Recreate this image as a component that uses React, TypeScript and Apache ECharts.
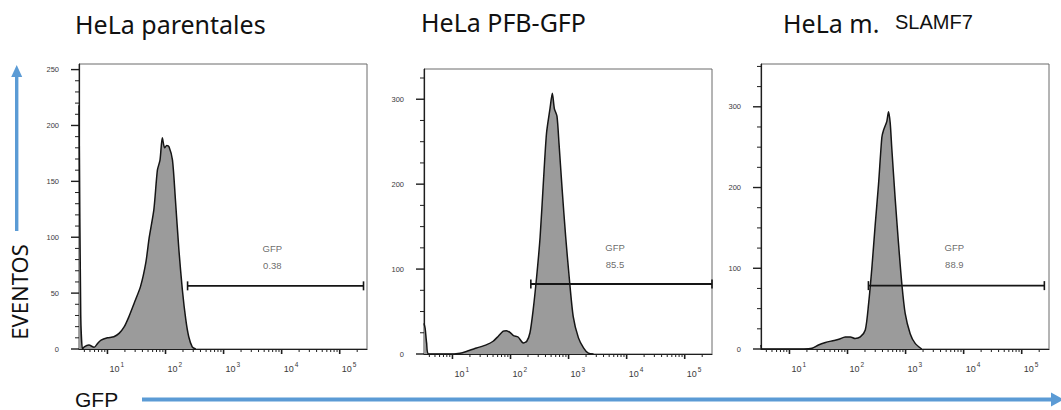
import React, { useEffect, useRef } from "react";
import * as echarts from "echarts";

// ---------- texts ----------
const panelTitles = ["HeLa parentales", "HeLa PFB-GFP", "HeLa m."];
const titleSuffix = "SLAMF7";
const yAxisTitle = "EVENTOS";
const xAxisTitle = "GFP";

// ---------- axes ----------
const decadeExponents = [1, 2, 3, 4, 5]; // tick labels 10^1 ... 10^5 (log10 units)
const xMin = 0.51;
const xMax = 5.47;
const yMax = [255, 335.6, 353];
const yMajorTicks = [
  [0, 50, 100, 150, 200, 250],
  [0, 100, 200, 300],
  [0, 100, 200, 300],
];
const yMinorStep = [10, 25, 25];

// ---------- histogram data (x in log10 of GFP, y = events) ----------
const p1X = [0.51, 0.54, 0.57, 0.6, 0.68, 0.77, 0.83, 0.89, 1.0, 1.11, 1.2, 1.29, 1.37, 1.46, 1.57, 1.66, 1.72, 1.8, 1.86, 1.905, 1.945, 1.985, 2.02, 2.06, 2.12, 2.17, 2.23, 2.29, 2.35, 2.4, 2.46, 2.52];
const p1Y = [218, 30, 0, 2, 3.5, 1.5, 5, 8, 10, 11, 14, 20, 29, 41, 56, 77, 100, 125, 160, 169, 189, 180, 182, 181, 169, 134, 89, 53, 26, 11, 2, 0];

const p2X = [0.51, 0.53, 0.555, 0.59, 0.93, 1.13, 1.24, 1.415, 1.59, 1.7, 1.79, 1.875, 1.93, 1.99, 2.05, 2.13, 2.22, 2.28, 2.335, 2.39, 2.45, 2.51, 2.565, 2.62, 2.68, 2.72, 2.755, 2.8, 2.835, 2.89, 2.95, 3.01, 3.08, 3.17, 3.26, 3.34, 3.43];
const p2Y = [36, 30, 13, 0, 0, 1, 3, 7, 11, 15, 21, 27, 27.5, 25.5, 21.6, 20, 13, 15, 25, 52, 91, 138, 201, 260, 289, 307, 289, 280, 248, 193, 138, 91, 44, 19, 7, 1, 0];

const p3X = [0.51, 0.53, 1.25, 1.39, 1.5, 1.62, 1.73, 1.85, 1.96, 2.05, 2.13, 2.22, 2.306, 2.363, 2.42, 2.478, 2.534, 2.591, 2.62, 2.677, 2.706, 2.735, 2.763, 2.821, 2.878, 2.935, 2.993, 3.079, 3.165, 3.278];
const p3Y = [5, 0, 0, 1, 5, 8, 10, 12, 15, 15, 13, 15, 23.5, 56, 101, 155, 204, 262, 271, 282, 294, 280, 248, 186, 131, 81, 44, 19, 7, 0];

const histX = [p1X, p2X, p3X];
const histY = [p1Y, p2Y, p3Y];

// ---------- gates ----------
const gateName = ["GFP", "GFP", "GFP"];
const gatePercent = ["0.38", "85.5", "88.9"];
const gateStart = [2.38, 2.35, 2.36];
const gateEnd = [5.41, 5.47, 5.39];
const gateLevel = [56.5, 82.4, 78.5];
const gateLabelX = [3.84, 3.8, 3.84];
const gateLabelY = [82, 115, 115];

// ---------- layout ----------
const grids = [
  { left: 79, top: 64, width: 288, height: 285 },
  { left: 424, top: 69, width: 288, height: 285 },
  { left: 761, top: 64, width: 288, height: 285 },
];

const AX = "#1e1e1e";
const LBL = "#3a3a3a";
const SMALL_FONT = "Liberation Sans";
const BIG_FONT = "Noto Sans";
const BLUE = "#5B9BD5";
const MAJOR_X_LEN = 5;
const MINOR_X_LEN = 3;
const MAJOR_Y_LEN = 8;
const MINOR_Y_LEN = 4;

function xMinorTicks(): number[] {
  const out: number[] = [];
  for (let d = 0; d <= 5; d++) {
    for (let k = 2; k <= 9; k++) {
      const v = Math.log10(k) + d;
      if (v > xMin && v < xMax) out.push(v);
    }
  }
  return out;
}

function yMinorTicks(i: number): number[] {
  const out: number[] = [];
  const major = yMajorTicks[i];
  for (let v = yMinorStep[i]; v < yMax[i]; v += yMinorStep[i]) {
    if (!major.includes(v)) out.push(v);
  }
  return out;
}

function buildOption() {
  const xAxis: any[] = [];
  const yAxis: any[] = [];
  const series: any[] = [];
  const minorX = xMinorTicks();

  grids.forEach((_, i) => {
    xAxis.push({
      type: "value",
      gridIndex: i,
      min: xMin,
      max: xMax,
      position: "bottom",
      axisLine: { show: true, onZero: false, lineStyle: { color: AX, width: 1.2 } },
      axisTick: { show: false },
      axisLabel: {
        show: true,
        customValues: decadeExponents,
        margin: 12,
        align: "left",
        padding: [0, 0, 0, 2],
        formatter: (v: number) => `{b|10}{s|${Math.round(v)}}`,
        rich: {
          b: { fontSize: 9, color: LBL, fontFamily: SMALL_FONT, lineHeight: 12, verticalAlign: "bottom" },
          s: { fontSize: 6.5, color: LBL, fontFamily: SMALL_FONT, lineHeight: 12, verticalAlign: "top", padding: [0, 0, 0, 1] },
        },
      },
      splitLine: { show: false },
    });
    yAxis.push({
      type: "value",
      gridIndex: i,
      min: 0,
      max: yMax[i],
      position: "left",
      axisLine: { show: true, onZero: false, lineStyle: { color: AX, width: 1.2 } },
      axisTick: { show: false },
      axisLabel: {
        show: true,
        customValues: yMajorTicks[i],
        margin: 20,
        fontSize: 7.5,
        color: LBL,
        fontFamily: SMALL_FONT,
      },
      splitLine: { show: false },
    });

    // histogram
    series.push({
      type: "line",
      xAxisIndex: i,
      yAxisIndex: i,
      data: histX[i].map((x, j) => [x, histY[i][j]]),
      symbol: "none",
      showSymbol: false,
      smooth: 0.25,
      clip: true,
      lineStyle: { color: "#151515", width: 1.5 },
      areaStyle: { color: "#9b9b9b", opacity: 1 },
      z: 2,
    });

    // x ticks (major decades + minor 2..9 x 10^d), drawn through the axis scale
    const xTickData = [
      ...decadeExponents.map((v) => [v, MAJOR_X_LEN]),
      ...minorX.map((v) => [v, MINOR_X_LEN]),
    ];
    series.push({
      type: "custom",
      xAxisIndex: i,
      yAxisIndex: i,
      silent: true,
      clip: false,
      data: xTickData,
      encode: { x: 0 },
      renderItem: (_p: any, api: any) => {
        const v = api.value(0);
        const len = api.value(1);
        const pt = api.coord([v, 0]);
        return {
          type: "line",
          shape: { x1: pt[0], y1: pt[1], x2: pt[0], y2: pt[1] + len },
          style: { stroke: AX, lineWidth: len >= MAJOR_X_LEN ? 1.6 : 1 },
        };
      },
      z: 4,
    });

    // y ticks
    const yTickData = [
      ...yMajorTicks[i].map((v) => [v, MAJOR_Y_LEN]),
      ...yMinorTicks(i).map((v) => [v, MINOR_Y_LEN]),
    ];
    series.push({
      type: "custom",
      xAxisIndex: i,
      yAxisIndex: i,
      silent: true,
      clip: false,
      data: yTickData,
      encode: { y: 0 },
      renderItem: (_p: any, api: any) => {
        const v = api.value(0);
        const len = api.value(1);
        const pt = api.coord([xMin, v]);
        return {
          type: "line",
          shape: { x1: pt[0], y1: pt[1], x2: pt[0] - len, y2: pt[1] },
          style: { stroke: AX, lineWidth: len >= MAJOR_Y_LEN ? 1.4 : 1 },
        };
      },
      z: 4,
    });

    // gate
    series.push({
      type: "line",
      xAxisIndex: i,
      yAxisIndex: i,
      data: [
        [gateStart[i], gateLevel[i]],
        [gateEnd[i], gateLevel[i]],
      ],
      symbol: "rect",
      symbolSize: [1.6, 9],
      showSymbol: true,
      itemStyle: { color: "#151515" },
      lineStyle: { color: "#151515", width: 1.8 },
      z: 5,
    });
    series.push({
      type: "scatter",
      xAxisIndex: i,
      yAxisIndex: i,
      data: [[gateLabelX[i], gateLabelY[i]]],
      symbolSize: 1,
      itemStyle: { color: "rgba(0,0,0,0)" },
      label: {
        show: true,
        position: "inside",
        formatter: `${gateName[i]}\n${gatePercent[i]}`,
        fontSize: 9.5,
        lineHeight: 17,
        color: "#444",
        fontFamily: SMALL_FONT,
      },
      z: 6,
    });
  });

  const titleStyle = { fontSize: 25, fontFamily: BIG_FONT, fill: "#111", align: "left", verticalAlign: "middle" };
  const graphic: any[] = [
    { type: "text", x: 75, y: 24, style: { ...titleStyle, text: panelTitles[0] } },
    { type: "text", x: 421, y: 22, style: { ...titleStyle, text: panelTitles[1] } },
    { type: "text", x: 783, y: 23, style: { ...titleStyle, text: panelTitles[2] } },
    {
      type: "text",
      x: 895,
      y: 22,
      style: { text: titleSuffix, fontSize: 20, fontFamily: SMALL_FONT, fill: "#111", align: "left", verticalAlign: "middle" },
    },
    {
      type: "text",
      x: 19,
      y: 292,
      rotation: Math.PI / 2,
      style: { text: yAxisTitle, fontSize: 22, fontFamily: BIG_FONT, fill: "#111", align: "center", verticalAlign: "middle" },
    },
    {
      type: "text",
      x: 75,
      y: 399.5,
      style: { text: xAxisTitle, fontSize: 21, lineHeight: 21, fontFamily: SMALL_FONT, fill: "#111", align: "left", verticalAlign: "middle" },
    },
    // vertical arrow
    { type: "line", shape: { x1: 16.7, y1: 231, x2: 16.7, y2: 75 }, style: { stroke: BLUE, lineWidth: 3.4 } },
    { type: "polygon", shape: { points: [[11.2, 77], [22.2, 77], [16.7, 65]] }, style: { fill: BLUE } },
    // horizontal arrow
    { type: "line", shape: { x1: 142, y1: 399.5, x2: 1053, y2: 399.5 }, style: { stroke: BLUE, lineWidth: 4 } },
    { type: "polygon", shape: { points: [[1051, 392.5], [1051, 406.5], [1064, 399.5]] }, style: { fill: BLUE } },
  ];

  return {
    animation: false,
    backgroundColor: "#ffffff",
    grid: grids.map((g) => ({ ...g, show: true, borderColor: "#6a6a6a", borderWidth: 1, backgroundColor: "transparent" })),
    xAxis,
    yAxis,
    series,
    graphic,
  };
}

export default function App() {
  const ref = useRef<HTMLDivElement>(null);
  useEffect(() => {
    if (!ref.current) return;
    const chart = echarts.init(ref.current, undefined, { renderer: "svg" });
    chart.setOption(buildOption() as any);
    return () => chart.dispose();
  }, []);
  return (
    <div
      ref={ref}
      style={{ position: "fixed", left: 0, top: 0, width: 1061, height: 410, background: "#fff" }}
    />
  );
}
